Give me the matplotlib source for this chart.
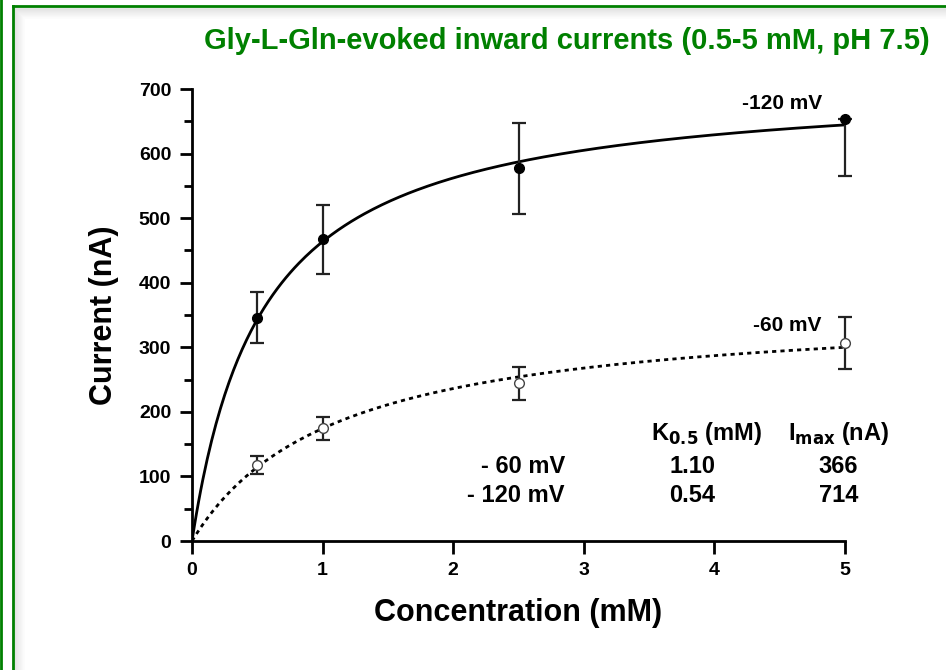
import numpy as np
import matplotlib
matplotlib.use("Agg")
import matplotlib.pyplot as plt
from matplotlib.lines import Line2D
from matplotlib.ticker import MultipleLocator

plt.rcParams['font.family'] = ['Liberation Sans', 'DejaVu Sans']
plt.rcParams['font.weight'] = 'bold'
plt.rcParams['mathtext.default'] = 'bf'

# measured points (mM, nA)
conc = [0.5, 1.0, 2.5, 5.0]
i120 = [345, 467, 577, 653]
i120_lo = [38, 54, 70, 88]
i120_hi = [40, 53, 70, 0]
i60 = [118, 175, 245, 307]
i60_lo = [14, 18, 26, 40]
i60_hi = [14, 17, 25, 40]

# Michaelis-Menten fit parameters
labels = ['- 60 mV', '- 120 mV']
k05 = [1.10, 0.54]
imax = [366, 714]

fig = plt.figure(figsize=(9.46, 6.70), dpi=100)
ax = fig.add_axes([192/946, 1-541/670, 653/946, 452/670])

xs = np.linspace(0, 5, 300)
ax.plot(xs, imax[1]*xs/(k05[1]+xs), color='black', lw=2)
ax.plot(xs, imax[0]*xs/(k05[0]+xs), color='black', lw=2, linestyle=(0, (1.5, 1.5)))

for c in ax.errorbar(conc, i120, yerr=[i120_lo, i120_hi], fmt='o', color='black', ms=7,
                     ecolor='#222222', elinewidth=1.6, capsize=5, capthick=1.6,
                     zorder=5).get_children():
    c.set_clip_on(False)
for c in ax.errorbar(conc, i60, yerr=[i60_lo, i60_hi], fmt='o', color='black', mfc='white',
                     mec='#444444', ms=7, ecolor='#222222', elinewidth=1.6, capsize=5,
                     capthick=1.6, zorder=5).get_children():
    c.set_clip_on(False)

ax.set_xlim(0, 5)
ax.set_ylim(0, 700)
ax.set_xticks(range(6))
ax.yaxis.set_major_locator(MultipleLocator(100))
ax.yaxis.set_minor_locator(MultipleLocator(50))
for s in ['top', 'right']:
    ax.spines[s].set_visible(False)
for s in ['left', 'bottom']:
    ax.spines[s].set_linewidth(2)
ax.tick_params(which='major', direction='out', length=9, width=2, labelsize=14, pad=6)
ax.tick_params(which='minor', direction='out', length=6, width=2)

ax.set_xlabel('Concentration (mM)', fontsize=22, fontweight='bold', labelpad=14)
ax.set_ylabel('Current (nA)', fontsize=22, fontweight='bold', labelpad=14)

ax.text(4.52, 678, '-120 mV', fontsize=15, fontweight='bold', ha='center', va='center')
ax.text(4.56, 333, '-60 mV', fontsize=15, fontweight='bold', ha='center', va='center')

# parameter table
ax.text(3.94, 167, r'K$_{0.5}$ (mM)', fontsize=17, fontweight='bold', ha='center', va='center')
ax.text(4.95, 167, r'I$_{max}$ (nA)', fontsize=17, fontweight='bold', ha='center', va='center')
for j, yy in enumerate([116, 70]):
    ax.text(2.856, yy, labels[j], fontsize=17, fontweight='bold', ha='right', va='center')
    ax.text(3.83, yy, f'{k05[j]:.2f}', fontsize=17, fontweight='bold', ha='center', va='center')
    ax.text(4.95, yy, f'{imax[j]}', fontsize=17, fontweight='bold', ha='center', va='center')

fig.text(930/946, 1-41/670, 'Gly-L-Gln-evoked inward currents (0.5-5 mM, pH 7.5)',
         color='#008000', fontsize=21, fontweight='bold', ha='right', va='center')

# green slide frame with light shadow
W, H = 946, 670
for k in range(10):
    g = 0.88 + 0.012*k
    fig.add_artist(Line2D([(15+k)/W, (15+k)/W], [0, 1-(9+k)/H], color=(g, g, g), lw=1.2))
    fig.add_artist(Line2D([(15+k)/W, 1], [1-(9+k)/H, 1-(9+k)/H], color=(g, g, g), lw=1.2))
fig.add_artist(Line2D([1/W, 1/W], [0, 1], color='#008000', lw=2))
fig.add_artist(Line2D([12.5/W, 12.5/W], [0, 1-6/H], color='#008000', lw=2))
fig.add_artist(Line2D([12.5/W, 1], [1-6/H, 1-6/H], color='#008000', lw=2))

fig.savefig('out.png', dpi=100)
